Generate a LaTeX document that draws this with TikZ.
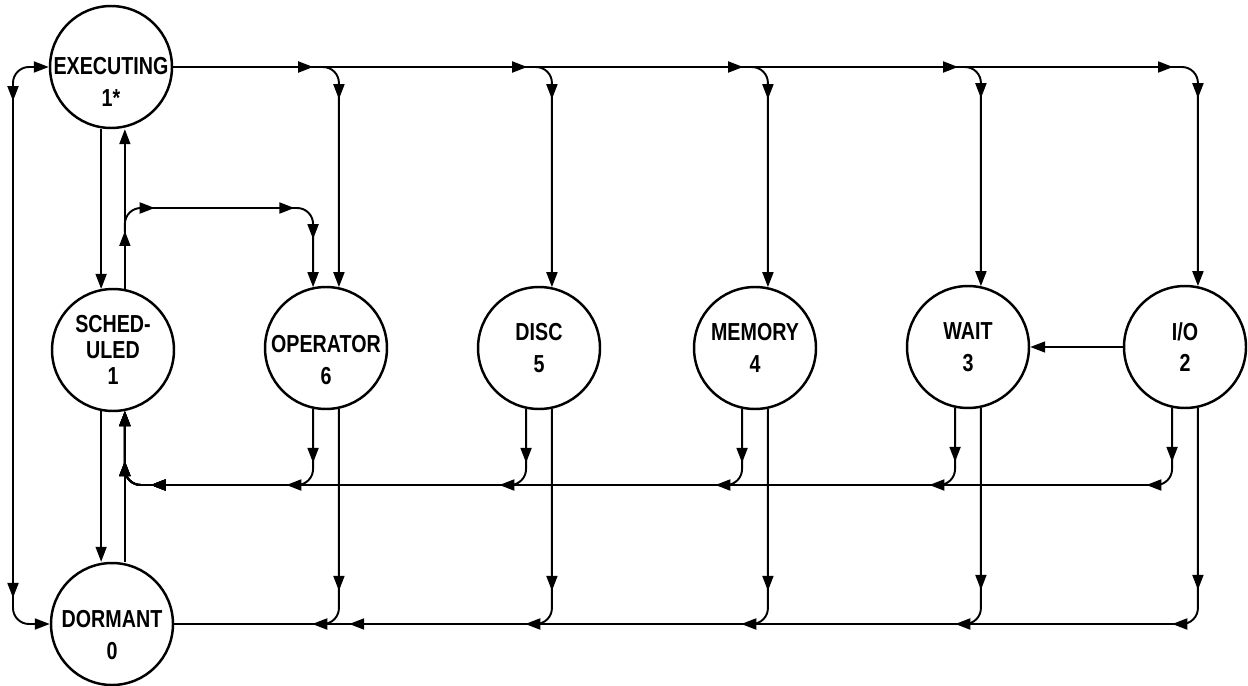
\documentclass[tikz,border=0pt]{standalone}
\usepackage{fontspec}
\setmainfont{Liberation Sans}
\newfontfamily\statefont[FakeStretch=0.8]{Liberation Sans}
\usetikzlibrary{arrows.meta,positioning,calc,decorations.markings}

\begin{document}
\begin{tikzpicture}[
    x=0.02cm, y=-0.02cm,
    >={Triangle[length=0.3cm,width=0.22cm]},
    state/.style={draw, circle, line width=1.4pt, minimum size=2.44cm, inner sep=0pt,
        align=center, font=\statefont\bfseries\fontsize{14}{18}\selectfont},
    stxt/.style={align=center, inner sep=0pt, font=\statefont\bfseries\fontsize{14}{18}\selectfont},
    bus/.style={line width=1.1pt, rounded corners=0.32cm},
    drop/.style={line width=0.9pt},
    mk/.style={postaction={decorate, decoration={markings, mark=at position #1 with {\arrow{>}}}}}
]
    \useasboundingbox (0,0) rectangle (1248,686);

    % States
    \node[state] (exe) at (111,67) {};
    \node[stxt] (exe-t) at (111,82) {EXECUTING\\1*};
    \node[state] (sch) at (113,350) {SCHED-\\[-3pt]ULED\\[-3pt]1};
    \node[state] (opr) at (326,348) {};
    \node[stxt] (opr-t) at (326,360) {OPERATOR\\6};
    \node[state] (dsc) at (539,348) {DISC\\5};
    \node[state] (mem) at (755,348) {MEMORY\\4};
    \node[state] (wt) at (968,347) {WAIT\\3};
    \node[state] (io) at (1185,347) {I/O\\2};
    \node[state] (dor) at (112,624) {};
    \node[stxt] (dor-t) at (112,635) {DORMANT\\0};

    \coordinate (fork) at (sch.79 |- 0,232);
    \coordinate (retc) at (sch.281 |- 0,485);
    \coordinate (lft) at (13,345);

    % Executing to waiting states
    \draw[bus, ->, mk=2.8cm, mk=-3.76cm] (exe.east) -| (opr.78);
    \draw[bus, ->, mk=7.08cm, mk=-3.76cm] (exe.east) -| (dsc.78);
    \draw[bus, ->, mk=11.4cm, mk=-3.76cm] (exe.east) -| (mem.78);
    \draw[bus, ->, mk=15.7cm, mk=-3.76cm] (exe.east) -| (wt.78);
    \draw[bus, ->, mk=20.0cm, mk=-3.76cm] (exe.east) -| (io.78);

    % Executing <-> dormant
    \draw[bus, <->, mk=1.26cm, mk=-1.12cm] (exe.west) -| (lft) |- (dor.west);

    % Executing <-> scheduled <-> dormant
    \draw[drop, ->] (sch.101 |- exe.south) -- (sch.101);
    \draw[drop, ->, mk=1.16cm] (sch.79) -- (sch.79 |- exe.south);
    \draw[drop, ->] (sch.259) -- (sch.259 |- dor.north);
    \draw[drop, ->] (sch.281 |- dor.north) -- (sch.281);

    % Scheduled to operator
    \draw[bus, ->, mk=0.94cm, mk=-1.82cm, mk=-0.96cm] (fork) -- ++(0,-24) -| (opr.102);

    % I/O to wait
    \draw[drop, ->] (io.west) -- (wt.east);

    % Back to scheduled
    \draw[bus, ->, mk=1.08cm, mk=1.92cm, mk=-1.0cm, mk=-1.86cm] (opr.258) |- (retc) -- (sch.281);
    \draw[bus, ->, mk=1.08cm, mk=1.92cm, mk=-1.0cm, mk=-1.86cm] (dsc.258) |- (retc) -- (sch.281);
    \draw[bus, ->, mk=1.08cm, mk=1.92cm, mk=-1.0cm, mk=-1.86cm] (mem.258) |- (retc) -- (sch.281);
    \draw[bus, ->, mk=1.08cm, mk=1.92cm, mk=-1.0cm, mk=-1.86cm] (wt.258) |- (retc) -- (sch.281);
    \draw[bus, ->, mk=1.08cm, mk=1.92cm, mk=-1.0cm, mk=-1.86cm] (io.258) |- (retc) -- (sch.281);

    % Back to dormant
    \draw[bus, mk=3.64cm, mk=4.7cm] (opr.282) |- (dor.east);
    \draw[bus, mk=3.64cm, mk=4.7cm, mk=-3.5cm] (dsc.282) |- (dor.east);
    \draw[bus, mk=3.64cm, mk=4.7cm] (mem.282) |- (dor.east);
    \draw[bus, mk=3.64cm, mk=4.7cm] (wt.282) |- (dor.east);
    \draw[bus, mk=3.64cm, mk=4.7cm] (io.282) |- (dor.east);
\end{tikzpicture}
\end{document}
